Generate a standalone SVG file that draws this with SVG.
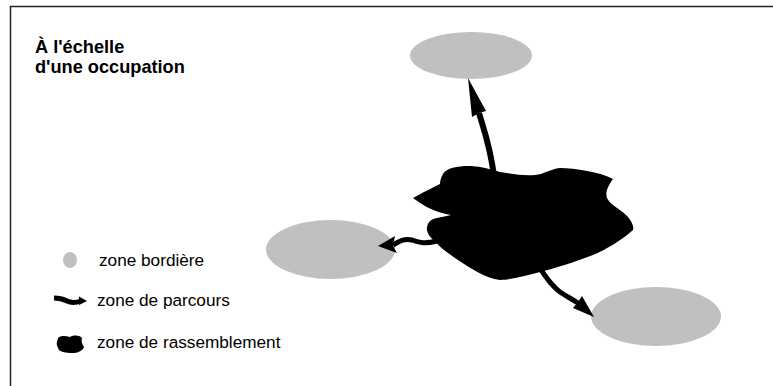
<svg xmlns="http://www.w3.org/2000/svg" width="773" height="386" viewBox="0 0 773 386">
<style>
.frame{fill:#fff;stroke:#222;stroke-width:1.5}
.zone{fill:#c0c0c0}
.blob{fill:#000}
.shaft{fill:none;stroke:#000;stroke-linecap:butt;stroke-linejoin:round}
.head{fill:#000}
.title{font-family:"Liberation Sans",Arial,sans-serif;font-weight:bold;font-size:18.2px;fill:#000}
.lab{font-family:"Liberation Sans",Arial,sans-serif;font-size:17.2px;fill:#000}
</style>
<rect class="frame" x="10.5" y="6.5" width="800" height="420"/>
<g id="title">
<text class="title" x="35" y="53">À l'échelle</text>
<text class="title" x="35" y="73">d'une occupation</text>
</g>
<g id="zone-top"><ellipse class="zone" cx="471" cy="55.5" rx="61" ry="23.5"/></g>
<g id="zone-left"><ellipse class="zone" cx="330.5" cy="249.5" rx="64.5" ry="29.5"/></g>
<g id="zone-right"><ellipse class="zone" cx="656" cy="316.5" rx="65" ry="29.5"/></g>
<g id="rassemblement">
<path class="blob" d="M443,174 C446,168 458,166 468,166 C478,166 486,168 500,172 C512,174 524,176 535,175 C545,174 550,169 560,168 C575,168 600,172 613,179 C608,186 605,192 607,198 C610,205 622,210 628,217 C632,222 634,226 633,230 C622,240 605,250 593,255 C575,262 555,268 540,272 C525,276 510,280 500,280 C485,278 470,268 458,260 C448,253 440,248 435,241 C430,238 426,232 427,227 C428,222 431,219 437,218 C442,217 447,216 451,215 C440,213 432,210 425,206 C420,203 416,200 413,198 C420,194 432,188 440,184 C440,181 441,177 443,174 Z"/>
</g>
<g id="connectors">
<path class="shaft" stroke-width="6" d="M479,113 C484,130 490,145 494,176"/>
<polygon class="head" points="468,78 486,111 479,113 472,117"/>
<path class="shaft" stroke-width="5" d="M393,245 C400,241 405,238 412,240 C420,243 425,244 437,241"/>
<polygon class="head" points="378,246 395,236 393,246 397,253"/>
<path class="shaft" stroke-width="5" d="M541,270 C548,280 552,286 560,292 C566,296 570,298 578,303"/>
<polygon class="head" points="594,317 573,308 578,302 582,296"/>
</g>
<g id="legend">
<g id="legend-bordiere">
<ellipse class="zone" cx="70" cy="260" rx="7" ry="8"/>
<text class="lab" x="99" y="266">zone bordière</text>
</g>
<g id="legend-parcours">
<path class="shaft" stroke-width="5" d="M54,298 C59,298 63,299 67,301 C71,303 75,303 81,301"/>
<polygon class="head" points="79,296.5 87,301 79,305"/>
<text class="lab" x="97" y="306">zone de parcours</text>
</g>
<g id="legend-rassemblement">
<path class="blob" d="M58,338 C61,335 66,336 70,337 C74,335 79,335 82,338 C81,341 82,344 84,347 C82,351 78,353 72,353 C66,353 61,352 59,350 C58,347 56,345 57,342 Z"/>
<text class="lab" x="97" y="348">zone de rassemblement</text>
</g>
</g>
</svg>
